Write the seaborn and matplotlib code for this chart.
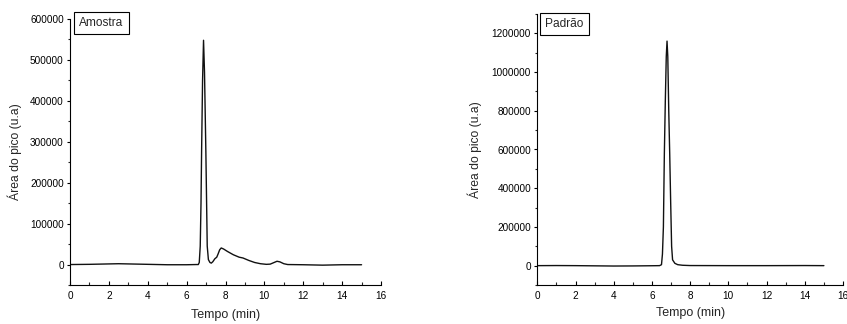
import matplotlib
matplotlib.use("Agg")
import matplotlib.pyplot as plt
import seaborn as sns
import pandas as pd
from matplotlib.ticker import MultipleLocator

# ---- data ----
amostra_t = [0, 1, 2, 2.5, 3, 4, 5, 6, 6.5, 6.6, 6.65, 6.7, 6.74, 6.77, 6.82,
             6.87, 6.92, 6.99, 7.06, 7.12, 7.2, 7.27, 7.35, 7.45, 7.55, 7.62,
             7.7, 7.78, 7.9, 8.1, 8.4, 8.7, 8.9, 9.2, 9.5, 9.8, 10.1, 10.3,
             10.5, 10.65, 10.8, 11.0, 11.2, 12, 13, 14, 15]
amostra_y = [0, 500, 1500, 2000, 1500, 500, -500, -500, 0, 0, 5000, 45000,
             150000, 275000, 450000, 548000, 470000, 275000, 45000, 12000, 5000,
             3500, 7000, 14000, 18000, 26000, 36000, 40500, 38000, 32000, 24000,
             18000, 16000, 10000, 5000, 2000, 500, 1000, 5000, 8000, 6500, 2000,
             0, -500, -1500, -500, -500]

padrao_t = [0, 1, 2, 3, 4, 5, 6, 6.4, 6.5, 6.55, 6.6, 6.65, 6.7, 6.75, 6.79,
            6.83, 6.88, 6.93, 6.98, 7.03, 7.08, 7.2, 7.35, 7.6, 8, 10, 12, 14, 15]
padrao_y = [0, 500, 0, -1000, -2000, -1500, -500, 0, 5000, 60000, 200000,
            580000, 850000, 1080000, 1160000, 1080000, 800000, 580000, 330000,
            100000, 30000, 12000, 5000, 2000, 500, 0, 0, 500, 0]

panel_names = ["Amostra", "Padrão"]
x_label = "Tempo (min)"
y_label = "Área do pico (u.a)"

sns.set_style("ticks")
plt.rcParams["font.family"] = ["Liberation Sans", "DejaVu Sans"]

fig = plt.figure(figsize=(8.47, 3.24), dpi=100)
W, H = 847, 324

def add_ax(x0, x1, ytop, ybot):
    return fig.add_axes([x0 / W, (H - ybot) / H, (x1 - x0) / W, (ybot - ytop) / H])

ax1 = add_ax(70, 381, 19, 285)
ax2 = add_ax(537.3, 843, 14, 285)

df1 = pd.DataFrame({"t": amostra_t, "y": amostra_y})
df2 = pd.DataFrame({"t": padrao_t, "y": padrao_y})

sns.lineplot(data=df1, x="t", y="y", ax=ax1, color="#111111", linewidth=1.0,
             estimator=None, sort=False)
sns.lineplot(data=df2, x="t", y="y", ax=ax2, color="#111111", linewidth=1.0,
             estimator=None, sort=False)

ax1.set_ylim(-50000, 600000)
ax2.set_ylim(-100000, 1300000)
ax1.yaxis.set_major_locator(MultipleLocator(100000))
ax1.yaxis.set_minor_locator(MultipleLocator(50000))
ax2.yaxis.set_major_locator(MultipleLocator(200000))
ax2.yaxis.set_minor_locator(MultipleLocator(100000))

box_pos = [(0.101, 0.985), (0.089, 0.963)]
ylab_x = [-0.154, -0.181]
xlab_y = [-0.09, -0.081]

for ax, name, bp, yx, xy in zip([ax1, ax2], panel_names, box_pos, ylab_x, xlab_y):
    ax.set_xlim(0, 16)
    ax.xaxis.set_major_locator(MultipleLocator(2))
    ax.xaxis.set_minor_locator(MultipleLocator(1))
    for s in ["top", "right"]:
        ax.spines[s].set_visible(False)
    for s in ["left", "bottom"]:
        ax.spines[s].set_linewidth(0.8)
        ax.spines[s].set_color("black")
    ax.tick_params(axis="x", which="major", direction="in", length=3, width=0.8,
                   labelsize=7.2, pad=4.5, colors="black")
    ax.tick_params(axis="x", which="minor", direction="in", length=2, width=0.8)
    ax.tick_params(axis="y", which="major", direction="out", length=2.5, width=0.8,
                   labelsize=7.2, pad=2, colors="black")
    ax.tick_params(axis="y", which="minor", direction="out", length=1.5, width=0.8)
    ax.set_xlabel(x_label, fontsize=9)
    ax.set_ylabel(y_label, fontsize=8.7)
    ax.xaxis.set_label_coords(0.5, xy)
    ax.yaxis.set_label_coords(yx, 0.5)
    ax.ticklabel_format(axis="y", style="plain", useOffset=False)
    ax.text(bp[0], bp[1], name, transform=ax.transAxes, ha="center", va="center",
            fontsize=8.6, clip_on=False,
            bbox=dict(boxstyle="square,pad=0.45", fc="white", ec="black", lw=0.8))

fig.savefig("out.png", dpi=100)
